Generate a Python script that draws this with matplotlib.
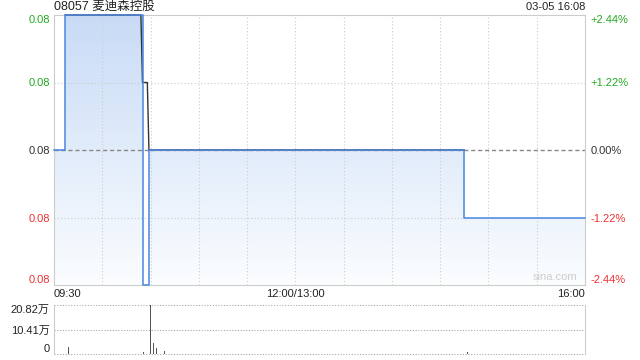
import numpy as np
import matplotlib.pyplot as plt
from matplotlib.colors import LinearSegmentedColormap

plt.rcParams['font.family'] = ['Liberation Sans', 'Noto Sans CJK SC', 'DejaVu Sans']

title = '08057 麦迪森控股'
stamp = '03-05 16:08'
prev_close = 0.082

# minutes since 09:30 (lunch break removed), price
price_min = [0, 7, 54, 55, 58, 59, 255, 330]
price_val = [0.082, 0.084, 0.084, 0.080, 0.080, 0.082, 0.081, 0.081]
# average price line
avg_min = [7, 54, 55, 58, 59, 255]
avg_val = [0.084, 0.084, 0.083, 0.083, 0.082, 0.082]
# volume, in 万
vol_min = [9, 55.5, 60, 62, 63.5, 68.5, 257]
vol_val = [3.0, 1.0, 20.82, 4.5, 2.6, 1.3, 1.0]

y_ticks = [0.080, 0.081, 0.082, 0.083, 0.084]
y_labels = ['0.08', '0.08', '0.08', '0.08', '0.08']
pct_labels = ['-2.44%', '-1.22%', '0.00%', '+1.22%', '+2.44%']
tick_colors = ['#ee3333', '#ee3333', '#333333', '#22aa22', '#22aa22']
vol_ticks = [0, 10.41, 20.82]
vol_labels = ['0', '10.41万', '20.82万']
x_ticks = list(range(0, 331, 30))
x_labels = {0: '09:30', 150: '12:00/13:00', 330: '16:00'}

fig = plt.figure(figsize=(6.4, 3.6), dpi=100)
ax = fig.add_axes([54 / 640, 75 / 360, 531 / 640, 270 / 360])
axv = fig.add_axes([54 / 640, 6 / 360, 531 / 640, 49 / 360])

ax.set_xlim(0, 330)
ax.set_ylim(0.080, 0.084)

# gradient fill under the price line
poly = ax.fill_between(price_min, price_val, 0.080, step='post', facecolor='none', edgecolor='none')
cmap = LinearSegmentedColormap.from_list('fill', ['#fbfdff', '#c8dbf6'])
im = ax.imshow(np.linspace(0, 1, 256).reshape(-1, 1), cmap=cmap, aspect='auto',
               origin='lower', extent=[0, 330, 0.080, 0.084], zorder=1)
im.set_clip_path(poly.get_paths()[0], transform=ax.transData)

# grid
for t in x_ticks[1:-1]:
    ax.axvline(t, color='#cccccc', lw=0.8, ls=(0, (1, 2)), zorder=2)
for t in [0.081, 0.083]:
    ax.axhline(t, color='#cccccc', lw=0.8, ls=(0, (1, 2)), zorder=2)

ax.plot(avg_min, avg_val, color='#333333', lw=1, zorder=3, clip_on=False)
ax.axhline(prev_close, color='#888888', lw=1, ls=(0, (3, 2)), zorder=3.5)
ax.step(price_min, price_val, where='post', color='#4a86e0', lw=1.1, zorder=4, clip_on=False)

for s in ax.spines.values():
    s.set_color('#cccccc')

ax.set_xticks(x_ticks)
ax.set_xticklabels([x_labels.get(t, '') for t in x_ticks], fontsize=8, color='#222222')
xl = ax.get_xticklabels()
xl[0].set_ha('left')
xl[-1].set_ha('right')
ax.tick_params(axis='x', length=0, pad=3)

ax.set_yticks(y_ticks)
ax.set_yticklabels(y_labels, fontsize=8)
ax.tick_params(axis='y', length=0, pad=3)
for lab, c in zip(ax.get_yticklabels(), tick_colors):
    lab.set_color(c)
ax.get_yticklabels()[0].set_va('bottom')
ax.get_yticklabels()[-1].set_va('top')

ax2 = ax.twinx()
ax2.set_ylim(0.080, 0.084)
ax2.set_yticks(y_ticks)
ax2.set_yticklabels(pct_labels, fontsize=8)
ax2.tick_params(axis='y', length=0, pad=4)
for lab, c in zip(ax2.get_yticklabels(), tick_colors):
    lab.set_color(c)
ax2.get_yticklabels()[0].set_va('bottom')
ax2.get_yticklabels()[-1].set_va('top')
for s in ax2.spines.values():
    s.set_visible(False)

fig.text(54 / 640, 1 - 7 / 360, title, fontsize=9, color='#222222', ha='left', va='center')
fig.text(585 / 640, 1 - 7 / 360, stamp, fontsize=8, color='#222222', ha='right', va='center')
ax.text(0.985, 0.01, 'sina.com', transform=ax.transAxes, fontsize=8, color='#cccccc', ha='right', va='bottom')

# volume panel
axv.set_xlim(0, 330)
axv.set_ylim(0, 20.82)
axv.bar(vol_min, vol_val, width=0.6, color='#555555', zorder=3)
axv.set_yticks(vol_ticks)
axv.set_yticklabels(vol_labels, fontsize=8, color='#222222')
axv.get_yticklabels()[0].set_va('bottom')
axv.get_yticklabels()[-1].set_va('top')
axv.tick_params(axis='y', length=0, pad=3)
axv.set_xticks([])
axv.grid(axis='y', color='#aaaaaa', lw=0.8, ls=(0, (1, 1.5)), zorder=1)
axv.spines['top'].set_visible(False)
axv.spines['bottom'].set_visible(False)
axv.spines['left'].set_color('#cccccc')
axv.spines['right'].set_color('#cccccc')
for t in axv.get_ygridlines():
    t.set_clip_on(False)

fig.savefig('out.png', dpi=100)
